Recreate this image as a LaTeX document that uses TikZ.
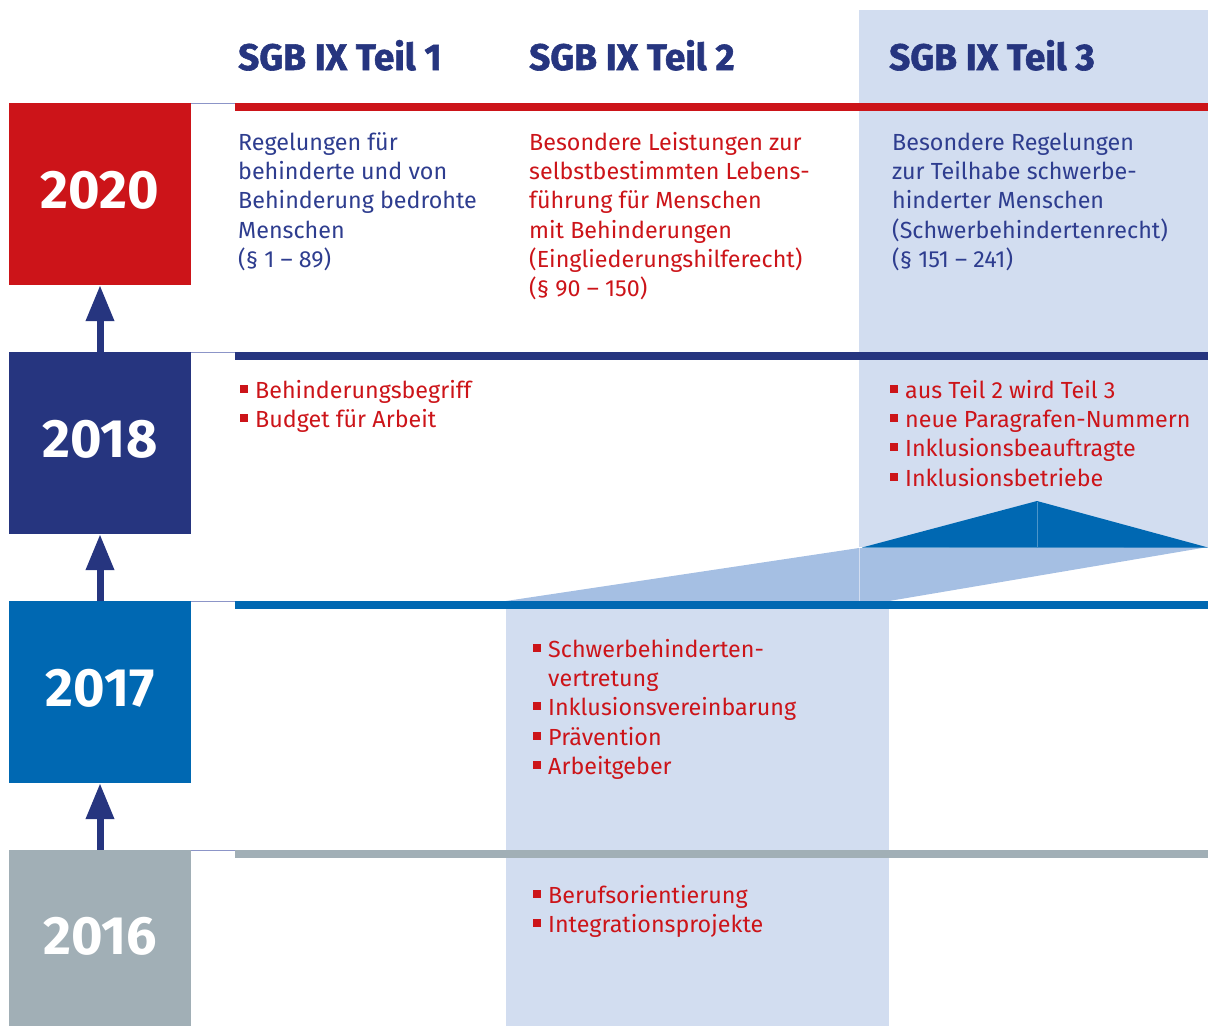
\documentclass[tikz,border=0pt]{standalone}
\usepackage{fontspec}
\setmainfont{Fira Sans}
\newfontfamily\headfont[BoldFeatures={FakeBold=1.6}]{Fira Sans}
\usetikzlibrary{arrows.meta}
\definecolor{tred}{HTML}{CC1419}
\definecolor{tnavy}{HTML}{26357F}
\definecolor{ttext}{HTML}{2E3D8F}
\definecolor{tblue}{HTML}{0068B2}
\definecolor{tgray}{HTML}{A1AFB6}
\definecolor{tlight}{HTML}{D2DDF0}
\definecolor{tmed}{HTML}{A5BFE3}
\definecolor{tthin}{HTML}{8C95C8}
\newcommand\fl{\rule{0pt}{20pt}}
\newcommand\bul{\makebox[15pt][l]{\textcolor{tred}{\rule[5.5pt]{8pt}{8pt}}}}
\newcommand\ind{\hspace*{15pt}}
\newcommand\yr[2]{\raisebox{#1}[\height][\depth]{#2}}
\begin{document}
\begin{tikzpicture}[x=1pt,y=-1pt,
 yearbox/.style={minimum width=182pt, minimum height=182pt, inner sep=0pt, text=white, font=\fontsize{54}{60}\selectfont\bfseries},
 head/.style={anchor=base west, inner sep=0pt, text=tnavy, font=\fontsize{37}{40}\selectfont\headfont\bfseries},
 body/.style={anchor=north west, inner sep=0pt, align=left, font=\fontsize{23.3}{29.3}\selectfont},
 bar/.style={line width=8pt},
 thinline/.style={draw=tthin, line width=1pt},
 up/.style={draw=tnavy, line width=7pt, -{Triangle[width=27pt,length=36pt]}}
]
\useasboundingbox (0,0) rectangle (1208,1026);
% backgrounds
\fill[tlight] (859,10) rectangle (1208,547);
\fill[tlight] (506,603) rectangle (889,1026);
\fill[tmed] (506,601) -- (859,548) -- (1208,547) -- (889,601) -- cycle;
\fill[tblue] (862,547.5) -- (1037,501) -- (1208,547.5) -- cycle;
\draw[draw=tblue!70!white, line width=0.8pt] (1037,502) -- (1037,547);
\draw[draw=tlight, line width=0.8pt] (859.5,548) -- (859.5,601);
% bars
\draw[bar, tred] (235,107) -- (1208,107);
\draw[bar, tnavy] (235,356) -- (1208,356);
\draw[bar, tblue] (235,605) -- (1208,605);
\draw[bar, tgray] (235,854) -- (1208,854);
\draw[thinline] (191,103.5) -- (235,103.5);
\draw[thinline] (191,352.5) -- (235,352.5);
\draw[thinline] (191,601.5) -- (235,601.5);
\draw[thinline] (191,850.5) -- (235,850.5);
% year boxes
\node[yearbox, fill=tred] (y2020) at (100,194) {\yr{4pt}{2020}};
\node[yearbox, fill=tnavy] (y2018) at (100,443) {\yr{4pt}{2018}};
\node[yearbox, fill=tblue] (y2017) at (100,692) {\yr{4pt}{2017}};
\node[yearbox, fill=tgray, minimum height=176pt] (y2016) at (100,938) {\yr{2pt}{2016}};
% arrows
\draw[up] (y2016.north) -- (y2017.south);
\draw[up] (y2017.north) -- (y2018.south);
\draw[up] (y2018.north) -- (y2020.south);
% headers
\node[head] (h1) at (238,70) {SGB IX Teil 1};
\node[head] (h2) at (529,70) {SGB IX Teil 2};
\node[head] (h3) at (889,70) {SGB IX Teil 3};
% body texts
\node[body, text=ttext] (c1) at (238,130) {\fl Regelungen für\\behinderte und von\\Behinderung bedrohte\\Menschen\\(§ 1 – 89)};
\node[body, text=tred] (c2) at (529,130) {\fl Besondere Leistungen zur\\selbstbestimmten Lebens-\\führung für Menschen\\mit Behinderungen\\(Eingliederungshilferecht)\\(§ 90 – 150)};
\node[body, text=ttext] (c3) at (892,130) {\fl Besondere Regelungen\\zur Teilhabe schwerbe-\\hinderter Menschen\\(Schwerbehindertenrecht)\\(§ 151 – 241)};
\node[body, text=tred] (r18a) at (240,378) {\fl\bul Behinderungsbegriff\\\bul Budget für Arbeit};
\node[body, text=tred] (r18b) at (890,378) {\fl\bul aus Teil 2 wird Teil 3\\\bul neue Paragrafen-Nummern\\\bul Inklusionsbeauftragte\\\bul Inklusionsbetriebe};
\node[body, text=tred] (r17) at (533,637) {\fl\bul Schwerbehinderten-\\\ind vertretung\\\bul Inklusionsvereinbarung\\\bul Prävention\\\bul Arbeitgeber};
\node[body, text=tred] (r16) at (533,883) {\fl\bul Berufsorientierung\\\bul Integrationsprojekte};
\end{tikzpicture}
\end{document}
